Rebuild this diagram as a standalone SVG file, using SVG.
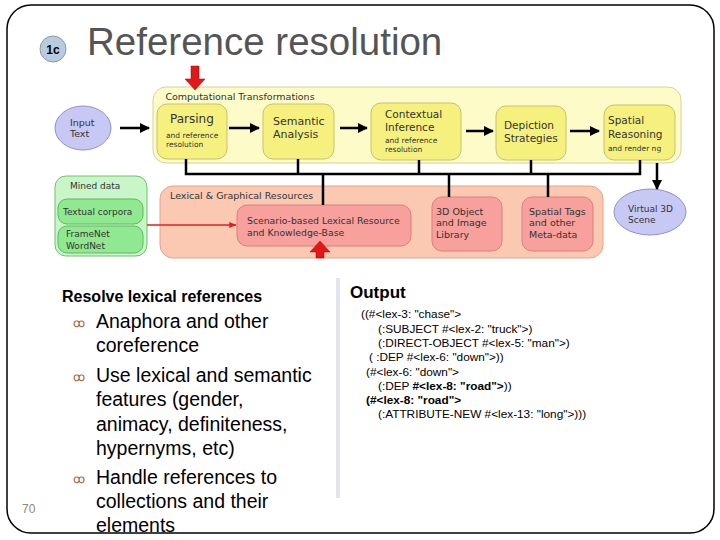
<svg xmlns="http://www.w3.org/2000/svg" width="720" height="540" viewBox="0 0 720 540">
<defs>
<style>
text{font-family:"Liberation Sans",Arial,sans-serif}
.d{font-family:"DejaVu Sans","Liberation Sans",sans-serif;fill:#333}
.yo{fill:#fdfbc8;stroke:#d6d29a;stroke-width:1}
.yi{fill:#f6f17e;stroke:#c8c070;stroke-width:1}
.pk{fill:#f7a09c;stroke:#d88080;stroke-width:1}
.gi{fill:#90e890;stroke:#60b860;stroke-width:1}
.ell{fill:#c8c8f4;stroke:#9090c8;stroke-width:1}
.bus{stroke:#000;stroke-width:2.5;fill:none}
.big{font-size:19.5px;fill:#000}
.code{font-size:11.8px;fill:#000}
</style>
<marker id="ah" viewBox="0 0 10 10" refX="9" refY="5" markerWidth="4" markerHeight="4" orient="auto"><path d="M0,0L10,5L0,10z" fill="#000"/></marker>
<marker id="rh" viewBox="0 0 10 10" refX="9" refY="5" markerWidth="5" markerHeight="5" orient="auto"><path d="M0,1L10,5L0,9z" fill="#e02020"/></marker>
</defs>
<rect x="0" y="0" width="720" height="540" fill="#fff"/>
<rect x="7" y="5" width="707" height="528" rx="24" ry="24" fill="none" stroke="#000" stroke-width="1.5"/>
<line x1="338" y1="278" x2="338" y2="498" stroke="#e4e4ec" stroke-width="4"/>

<g id="title">
<circle cx="53" cy="49" r="13" fill="#b8cce0" stroke="#8a9aaa" stroke-width="1"/>
<text x="53" y="53.5" font-size="12" font-weight="bold" text-anchor="middle" fill="#000">1c</text>
<text x="87" y="55" font-size="38.5" fill="#555">Reference resolution</text>
</g>

<g id="comp-transformations">
<rect class="yo" x="153" y="87" width="528" height="76" rx="13"/>
<text class="d" x="240" y="100" font-size="9.5" text-anchor="middle">Computational Transformations</text>
</g>
<g id="parsing"><rect class="yi" x="157" y="104" width="70" height="55" rx="10"/>
<text class="d" x="170" y="123" font-size="12">Parsing</text>
<text class="d" x="166" y="138" font-size="7.5">and reference</text>
<text class="d" x="166" y="147" font-size="7.5">resolution</text></g>
<g id="semantic"><rect class="yi" x="263" y="104" width="71" height="55" rx="10"/>
<text class="d" x="273" y="125" font-size="11">Semantic</text>
<text class="d" x="273" y="138" font-size="11">Analysis</text></g>
<g id="contextual"><rect class="yi" x="371" y="103" width="90" height="57" rx="10"/>
<text class="d" x="385" y="118" font-size="10.5">Contextual</text>
<text class="d" x="385" y="131" font-size="10.5">Inference</text>
<text class="d" x="385" y="143" font-size="7.5">and reference</text>
<text class="d" x="385" y="152" font-size="7.5">resolution</text></g>
<g id="depiction"><rect class="yi" x="496" y="106" width="70" height="54" rx="10"/>
<text class="d" x="504" y="129" font-size="10.5">Depiction</text>
<text class="d" x="504" y="142" font-size="10.5">Strategies</text></g>
<g id="spatial"><rect class="yi" x="604" y="105" width="71" height="55" rx="10"/>
<text class="d" x="608" y="124" font-size="10.5">Spatial</text>
<text class="d" x="608" y="138" font-size="10.5">Reasoning</text>
<text class="d" x="608" y="151" font-size="7.5">and render ng</text></g>

<g id="input-text"><ellipse class="ell" cx="83" cy="128" rx="28" ry="22"/>
<text class="d" x="70" y="126" font-size="9.5">Input</text>
<text class="d" x="70" y="137" font-size="9.5">Text</text></g>

<g id="virtual-scene"><ellipse class="ell" cx="650" cy="212" rx="36" ry="23"/>
<text class="d" x="628" y="212" font-size="9">Virtual 3D</text>
<text class="d" x="628" y="223" font-size="9">Scene</text></g>

<g id="mined-data">
<rect x="55" y="176" width="92" height="80" rx="11" fill="#c8f6c8" stroke="#70c070"/>
<text class="d" x="70" y="189" font-size="9">Mined data</text>
<rect class="gi" x="58" y="199" width="85" height="25" rx="9"/>
<text class="d" x="63" y="215" font-size="9">Textual corpora</text>
<rect class="gi" x="58" y="226" width="85" height="27" rx="9"/>
<text class="d" x="66" y="237" font-size="9">FrameNet</text>
<text class="d" x="66" y="249" font-size="9">WordNet</text>
</g>

<g id="lexical-resources">
<rect x="160" y="186" width="443" height="72" rx="13" fill="#fbc9b2" stroke="#e3a48c"/>
<text class="d" x="170" y="199" font-size="9.5">Lexical &amp; Graphical Resources</text>
</g>
<g id="scenario"><rect class="pk" x="237" y="205" width="174" height="41" rx="10"/>
<text class="d" x="247" y="224" font-size="9.3">Scenario-based Lexical Resource</text>
<text class="d" x="247" y="236" font-size="9.3">and Knowledge-Base</text></g>
<g id="object-library"><rect class="pk" x="432" y="197" width="70" height="54" rx="10"/>
<text class="d" x="436" y="215" font-size="9.5">3D Object</text>
<text class="d" x="436" y="226" font-size="9.5">and  Image</text>
<text class="d" x="436" y="238" font-size="9.5">Library</text></g>
<g id="spatial-tags"><rect class="pk" x="522" y="197" width="71" height="54" rx="10"/>
<text class="d" x="529" y="215" font-size="9.5">Spatial Tags</text>
<text class="d" x="529" y="226" font-size="9.5">and other</text>
<text class="d" x="529" y="238" font-size="9.5">Meta-data</text></g>

<g id="connectors">
<line x1="120" y1="128" x2="149" y2="128" stroke="#000" stroke-width="2.5" marker-end="url(#ah)"/>
<line x1="229" y1="128" x2="259" y2="128" stroke="#000" stroke-width="2.5" marker-end="url(#ah)"/>
<line x1="340" y1="128" x2="367" y2="128" stroke="#000" stroke-width="2.5" marker-end="url(#ah)"/>
<line x1="466" y1="131" x2="493" y2="131" stroke="#000" stroke-width="2.5" marker-end="url(#ah)"/>
<line x1="570" y1="131" x2="599" y2="131" stroke="#000" stroke-width="2.5" marker-end="url(#ah)"/>
<path class="bus" d="M186,159V174H640V160M298,159V174M419,160V174M531,160V174M323,174V205M449,174V197M548,174V197"/>
<line x1="657" y1="163" x2="657" y2="189" stroke="#000" stroke-width="2.5" marker-end="url(#ah)"/>
<line x1="147" y1="225" x2="236" y2="225" stroke="#e02020" stroke-width="1.5" marker-end="url(#rh)"/>
<path d="M191,66H199V79H205L195,90L185,79H191z" fill="#e01818" stroke="#a00" stroke-width="0.5"/>
<path d="M316,258V252H310L320,241L330,252H324V258z" fill="#e01818" stroke="#a00" stroke-width="0.5"/>
</g>

<g id="left-text">
<text x="62" y="302" font-size="16" font-weight="bold" fill="#000">Resolve lexical references</text>
<text x="73" y="327" font-size="12" fill="#a0603a">ꝏ</text>
<text class="big" x="96" y="328">Anaphora and other</text>
<text class="big" x="96" y="352">coreference</text>
<text x="73" y="381" font-size="12" fill="#a0603a">ꝏ</text>
<text class="big" x="96" y="382">Use lexical and semantic</text>
<text class="big" x="96" y="406">features (gender,</text>
<text class="big" x="96" y="431">animacy, definiteness,</text>
<text class="big" x="96" y="455">hypernyms, etc)</text>
<text x="73" y="483" font-size="12" fill="#a0603a">ꝏ</text>
<text class="big" x="96" y="484">Handle references to</text>
<text class="big" x="96" y="508">collections and their</text>
<text class="big" x="96" y="532">elements</text>
<text x="22" y="513" font-size="12" fill="#888">70</text>
</g>

<g id="output">
<text x="350" y="298" font-size="17" font-weight="bold" fill="#000">Output</text>
<text class="code" x="361" y="318">((#&lt;lex-3: "chase"&gt;</text>
<text class="code" x="378" y="333">(:SUBJECT #&lt;lex-2: "truck"&gt;)</text>
<text class="code" x="378" y="347">(:DIRECT-OBJECT #&lt;lex-5: "man"&gt;)</text>
<text class="code" x="369" y="361">(  :DEP #&lt;lex-6: "down"&gt;))</text>
<text class="code" x="366" y="376">(#&lt;lex-6: "down"&gt;</text>
<text class="code" x="378" y="390">(:DEP <tspan font-weight="bold">#&lt;lex-8: "road"&gt;</tspan>))</text>
<text class="code" x="366" y="404" font-weight="bold">(#&lt;lex-8: "road"&gt;</text>
<text class="code" x="378" y="418">(:ATTRIBUTE-NEW #&lt;lex-13: "long"&gt;)))</text>
</g>
</svg>
